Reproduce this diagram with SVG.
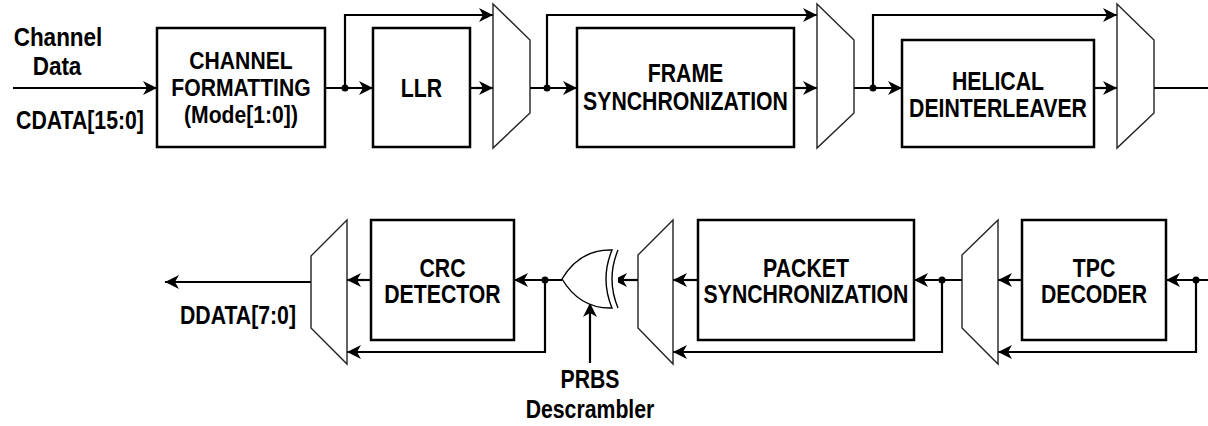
<svg xmlns="http://www.w3.org/2000/svg" width="1208" height="426" viewBox="0 0 1208 426">
  <style>
    .blk { fill: #fff; stroke: #000; stroke-width: 2.5; }
    .mux { fill: #fff; stroke: #222; stroke-width: 1.4; }
    .wire { fill: none; stroke: #000; stroke-width: 2.2; }
    .arr { marker-end: url(#head); }
    .dot { fill: #000; }
    .lbl { font-family: "Liberation Sans", Arial, Helvetica, sans-serif; font-weight: bold; font-size: 25px; fill: #000; text-anchor: middle; }
    .tight { font-size: 23px; }
    .gate { fill: #fff; stroke: #000; stroke-width: 1.4; }
  </style>
  <defs>
    <marker id="head" markerUnits="userSpaceOnUse" markerWidth="16" markerHeight="16" refX="14" refY="7" orient="auto">
      <path d="M0,0 L14,7 L0,14 L4,7 Z" fill="#000"/>
    </marker>
  </defs>
  <rect width="1208" height="426" fill="#fff"/>

  <!-- connectors -->
  <g id="connectors">
    <!-- top chain -->
    <path class="wire arr" d="M13,88 H157"/>
    <path class="wire arr" d="M325,88 H373"/>
    <path class="wire arr" d="M345,88 V15 H493"/>
    <path class="wire arr" d="M470,88 H493"/>
    <path class="wire arr" d="M530,88 H577"/>
    <path class="wire arr" d="M547,88 V15 H817"/>
    <path class="wire arr" d="M794,88 H817"/>
    <path class="wire arr" d="M854,88 H902"/>
    <path class="wire arr" d="M873,88 V15 H1117"/>
    <path class="wire arr" d="M1094,88 H1117"/>
    <path class="wire" d="M1154,88 H1208"/>
    <circle class="dot" cx="345" cy="88" r="3.5"/>
    <circle class="dot" cx="547" cy="88" r="3.5"/>
    <circle class="dot" cx="873" cy="88" r="3.5"/>

    <!-- bottom chain -->
    <path class="wire arr" d="M1208,280 H1166"/>
    <path class="wire arr" d="M1196,280 V352 H998"/>
    <path class="wire arr" d="M1022,280 H998"/>
    <path class="wire arr" d="M962,280 H914"/>
    <path class="wire arr" d="M942,280 V352 H673"/>
    <path class="wire arr" d="M698,280 H673"/>
    <path class="wire arr" d="M638,280 H613"/>
    <path class="wire arr" d="M562,280 H514"/>
    <path class="wire arr" d="M545,280 V352 H347"/>
    <path class="wire arr" d="M371,280 H347"/>
    <path class="wire arr" d="M311,282 H165"/>
    <path class="wire arr" d="M590,363 V303"/>
    <circle class="dot" cx="1196" cy="280" r="3.5"/>
    <circle class="dot" cx="942" cy="280" r="3.5"/>
    <circle class="dot" cx="545" cy="280" r="3.5"/>
  </g>

  <!-- input / output labels (narrowed bold sans) -->
  <g id="input-label">
    <text class="lbl" x="0" y="46" transform="translate(58 0) scale(0.9 1)">Channel</text>
    <text class="lbl" x="0" y="75" transform="translate(57 0) scale(0.9 1)">Data</text>
    <text class="lbl" x="0" y="129" transform="translate(80 0) scale(0.85 1)">CDATA[15:0]</text>
  </g>
  <g id="output-label">
    <text class="lbl" x="0" y="324" transform="translate(238 0) scale(0.85 1)">DDATA[7:0]</text>
  </g>

  <!-- top row blocks -->
  <g id="channel-formatting">
    <rect class="blk" x="157" y="28" width="168" height="119"/>
    <text class="lbl tight" x="0" y="69" transform="translate(241 0) scale(0.92 1)">CHANNEL</text>
    <text class="lbl tight" x="0" y="96" transform="translate(241 0) scale(0.92 1)">FORMATTING</text>
    <text class="lbl tight" x="0" y="123" transform="translate(241 0) scale(0.92 1)">(Mode[1:0])</text>
  </g>
  <g id="llr">
    <rect class="blk" x="373" y="28" width="97" height="119"/>
    <text class="lbl" x="0" y="97" transform="translate(421.5 0) scale(0.85 1)">LLR</text>
  </g>
  <g id="mux-1">
    <polygon class="mux" points="493,4 530,40 530,113 493,148"/>
  </g>
  <g id="frame-sync">
    <rect class="blk" x="577" y="28" width="217" height="119"/>
    <text class="lbl" x="0" y="82" transform="translate(685.5 0) scale(0.85 1)">FRAME</text>
    <text class="lbl" x="0" y="110" transform="translate(685.5 0) scale(0.85 1)">SYNCHRONIZATION</text>
  </g>
  <g id="mux-2">
    <polygon class="mux" points="817,4 854,40 854,113 817,148"/>
  </g>
  <g id="helical-deinterleaver">
    <rect class="blk" x="902" y="40" width="192" height="107"/>
    <text class="lbl" x="0" y="90" transform="translate(998 0) scale(0.85 1)">HELICAL</text>
    <text class="lbl" x="0" y="117" transform="translate(998 0) scale(0.85 1)">DEINTERLEAVER</text>
  </g>
  <g id="mux-3">
    <polygon class="mux" points="1117,4 1154,40 1154,113 1117,148"/>
  </g>

  <!-- bottom row blocks -->
  <g id="tpc-decoder">
    <rect class="blk" x="1022" y="220" width="144" height="120"/>
    <text class="lbl" x="0" y="277" transform="translate(1094 0) scale(0.85 1)">TPC</text>
    <text class="lbl" x="0" y="303" transform="translate(1094 0) scale(0.85 1)">DECODER</text>
  </g>
  <g id="mux-4">
    <polygon class="mux" points="998,220 962,255 962,328 998,364"/>
  </g>
  <g id="packet-sync">
    <rect class="blk" x="698" y="220" width="216" height="120"/>
    <text class="lbl" x="0" y="277" transform="translate(806 0) scale(0.85 1)">PACKET</text>
    <text class="lbl" x="0" y="303" transform="translate(806 0) scale(0.85 1)">SYNCHRONIZATION</text>
  </g>
  <g id="mux-5">
    <polygon class="mux" points="673,220 638,255 638,328 673,364"/>
  </g>
  <g id="prbs-xor">
    <path class="gate" d="M612,250 Q580,249 562,279 Q580,309 612,308 Q600,279 612,250 Z"/>
    <path class="gate" fill="none" d="M618,250 Q606,279 618,308"/>
    <text class="lbl" x="0" y="388" transform="translate(590 0) scale(0.85 1)">PRBS</text>
    <text class="lbl" x="0" y="418" transform="translate(590 0) scale(0.85 1)">Descrambler</text>
  </g>
  <g id="crc-detector">
    <rect class="blk" x="371" y="220" width="143" height="120"/>
    <text class="lbl" x="0" y="277" transform="translate(442.5 0) scale(0.85 1)">CRC</text>
    <text class="lbl" x="0" y="303" transform="translate(442.5 0) scale(0.85 1)">DETECTOR</text>
  </g>
  <g id="mux-6">
    <polygon class="mux" points="347,220 311,256 311,328 347,364"/>
  </g>
</svg>
